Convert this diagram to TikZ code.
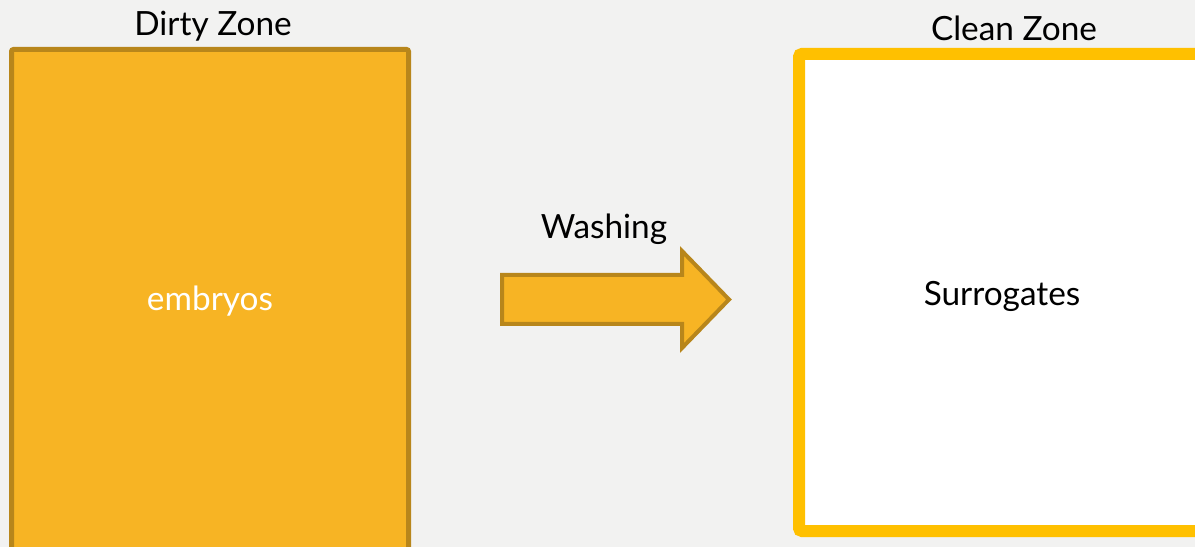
\documentclass[tikz,border=0pt]{standalone}
\usepackage{fontspec}
\setmainfont{Lato}
\definecolor{bgc}{HTML}{F2F2F1}
\definecolor{dirtyfill}{HTML}{F7B424}
\definecolor{dirtyline}{HTML}{B8861B}
\definecolor{cleanline}{HTML}{FFC000}
\tikzset{
  lbl/.style={font=\fontsize{33.5}{38}\selectfont, inner sep=0pt, anchor=base},
}
\begin{document}
\begin{tikzpicture}[x=1bp,y=-1bp]
\useasboundingbox (0,0) rectangle (1195,547);
\fill[bgc] (0,0) rectangle (1195,547);
\begin{scope}
\clip (0,0) rectangle (1195,547);
\draw[line width=5bp, draw=dirtyline, fill=dirtyfill, rounded corners=2bp] (11.5,49.5) rectangle (408.5,580);
\draw[line width=12bp, draw=cleanline, fill=white, rounded corners=3bp] (799,54) rectangle (1220,531);
\end{scope}
\draw[line width=4bp, draw=dirtyline, fill=dirtyfill, line join=miter]
  (502,275) -- (682,275) -- (682,251) -- (729,299.5) -- (682,348) -- (682,324) -- (502,324) -- cycle;
\node[lbl] (dirty) at (213,36) {Dirty Zone};
\node[lbl] (clean) at (1014,41) {Clean Zone};
\node[lbl] (wash) at (604,239) {Washing};
\node[lbl, text=white] (emb) at (210,311) {embryos};
\node[lbl] (sur) at (1002,306) {Surrogates};
\end{tikzpicture}
\end{document}
